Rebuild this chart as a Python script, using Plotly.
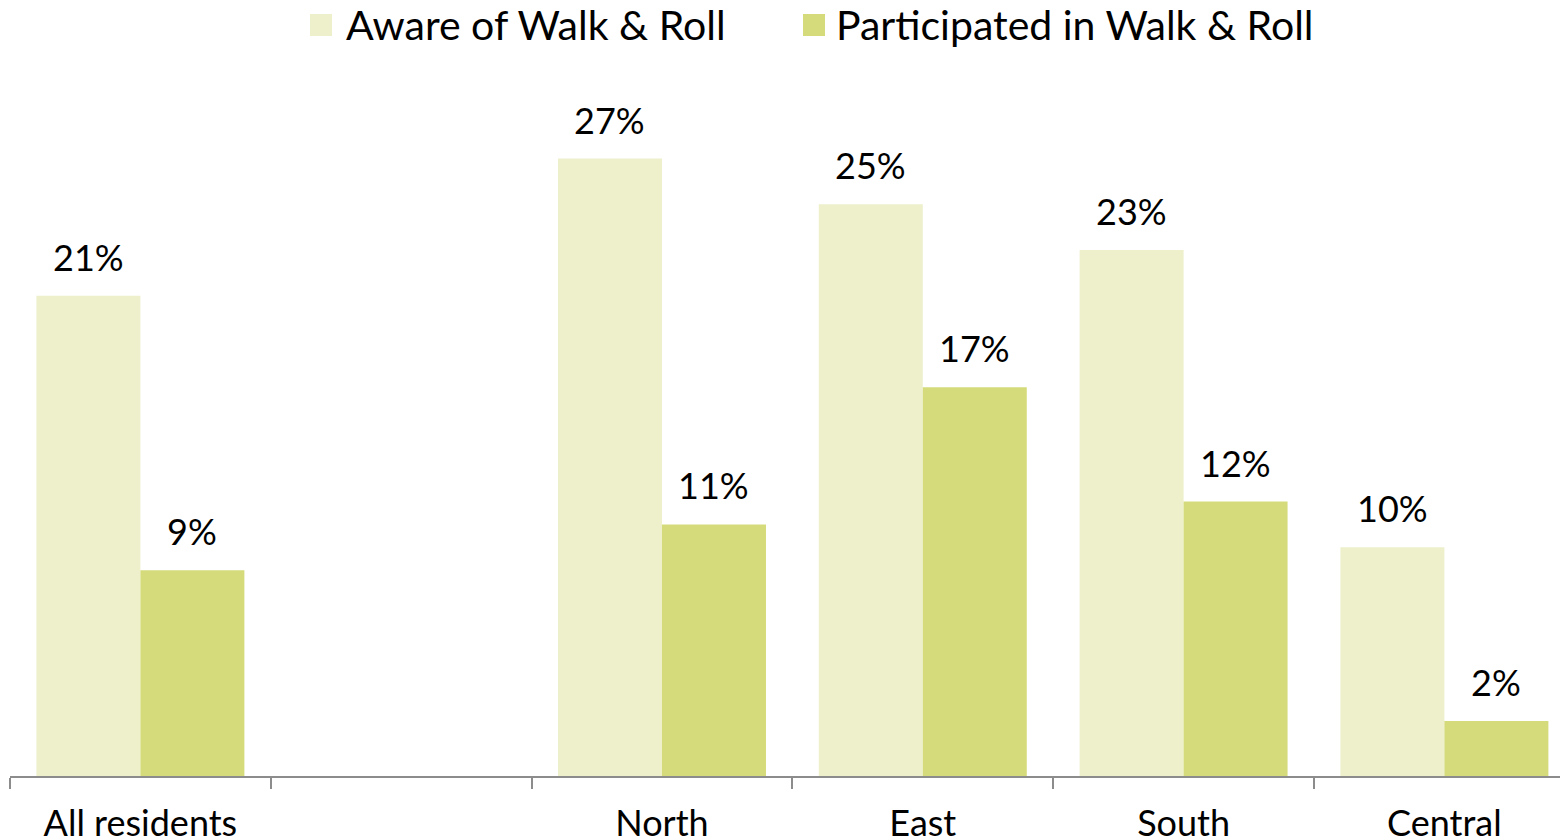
import plotly.graph_objects as go

# categories (blank slot between "All residents" and "North")
categories = ["All residents", " ", "North", "East", "South", "Central"]
aware = [21, None, 27, 25, 23, 10]
participated = [9, None, 11, 17, 12, 2.4]
series_names = ["Aware of Walk & Roll", "Participated in Walk & Roll"]

AWARE_COLOR = "#EDF0CB"
PART_COLOR = "#D5DB7B"
FONT = "Lato"

fig = go.Figure()

fig.add_trace(go.Bar(
    x=categories, y=aware, name=series_names[0],
    marker=dict(color=AWARE_COLOR, line=dict(width=0)),
))
fig.add_trace(go.Bar(
    x=categories, y=participated, name=series_names[1],
    marker=dict(color=PART_COLOR, line=dict(width=0)),
))

# data labels above bars
for series, shift in [(aware, -52), (participated, 52)]:
    for cat, v in zip(categories, series):
        if v is None:
            continue
        fig.add_annotation(
            x=cat, y=v, text=f"{round(v)}%", showarrow=False,
            xshift=shift, yanchor="bottom", yshift=15,
            font=dict(family=FONT, size=36, color="black"),
        )

# page body adds an 8px offset, so the figure is laid out 8px up/left
OFF = 8
W, H, L, T = 1558, 686, 10 - OFF, 90 - OFF
B = 839 - (T + H)


def px(x):
    return (x - OFF - L) / W


def py(y):
    return (T + H - (y - OFF)) / H


# legend drawn by hand (big square keys like the original)
for (sq_left, txt_left), name, color in zip(
        [(310, 344), (803, 834)], series_names, [AWARE_COLOR, PART_COLOR]):
    fig.add_shape(type="rect", xref="paper", yref="paper",
                  x0=px(sq_left), x1=px(sq_left + 22), y0=py(36), y1=py(14),
                  fillcolor=color, line=dict(width=0))
    fig.add_annotation(xref="paper", yref="paper", x=px(txt_left), y=py(25),
                       xanchor="left", yanchor="middle", text=name,
                       showarrow=False,
                       font=dict(family=FONT, size=41, color="black"))

fig.update_layout(
    width=1568, height=839,
    margin=dict(l=L, r=1568 - L - W, t=T, b=B, autoexpand=False),
    plot_bgcolor="white", paper_bgcolor="white",
    barmode="group", bargap=0.2025, bargroupgap=0,
    font=dict(family=FONT, size=36, color="black"),
    showlegend=False,
)

fig.update_xaxes(
    range=[-0.5, 5.474], showline=True, linecolor="#8c8c8c", linewidth=2,
    ticks="outside", tickson="boundaries", ticklen=11, tickcolor="#8c8c8c",
    tickwidth=2, showgrid=False, tickfont=dict(size=36), automargin=False,
    ticklabelstandoff=15,
)
fig.update_yaxes(range=[0, 30], visible=False, showgrid=False, automargin=False)

fig.write_html("out.html")
